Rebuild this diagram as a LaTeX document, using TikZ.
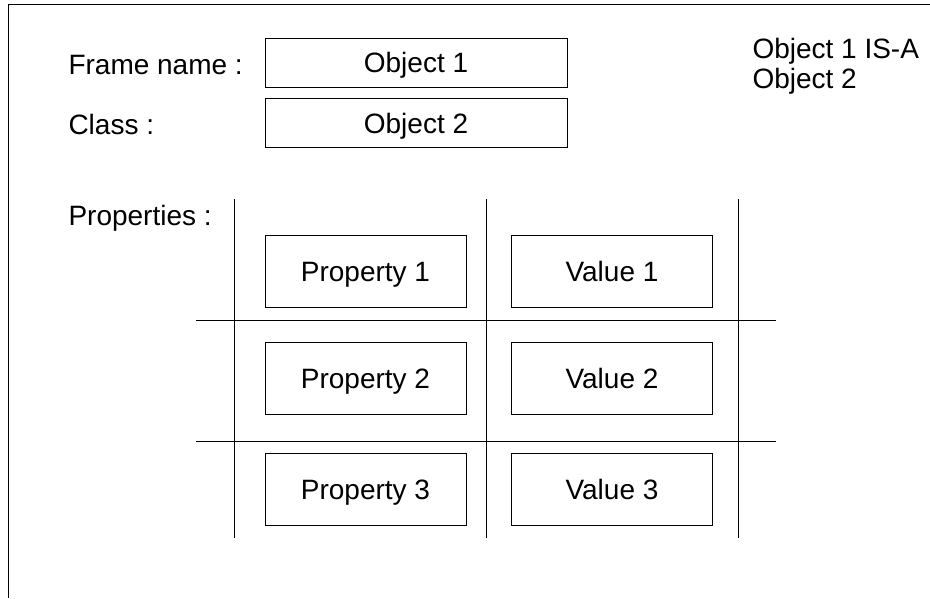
\documentclass[tikz,border=0pt]{standalone}
\usepackage{fontspec}
\setmainfont{Liberation Sans}
\begin{document}
\begin{tikzpicture}[x=1pt,y=-1pt,
  line width=1pt,
  every node/.style={font=\fontsize{28}{31}\selectfont},
  slotbox/.style={draw, inner sep=0pt, text height=20pt, text depth=0pt},
  objbox/.style={slotbox, minimum width=302pt, minimum height=49pt},
  cellbox/.style={slotbox, minimum width=201pt, minimum height=72pt},
  label/.style={anchor=base west, inner sep=0pt},
  grid/.style={line width=1pt}]
\useasboundingbox (0,0) rectangle (930,598);

% outer frame (top and left edges)
\coordinate (ftl) at (8,4);
\coordinate (ftr) at (930,4);
\coordinate (fbl) at (8,598);
\draw (ftr) -- (ftl) -- (fbl);

% header fields
\node[label] (lname) at (68,74) {Frame name :};
\node[label] (lclass) at (68,134) {Class :};
\node[label] (lprops) at (68,225) {Properties :};
\node[objbox] (obj1) at (416,62.5) {Object 1};
\node[objbox] (obj2) at (416,123) {Object 2};
\node[label] (isa1) at (752,58) {Object 1 IS-A};
\node[label] (isa2) at (752,88) {Object 2};

% property table grid
\coordinate (v1t) at (234,199); \coordinate (v1b) at (234,538);
\coordinate (v2t) at (486,199); \coordinate (v2b) at (486,538);
\coordinate (v3t) at (738,199); \coordinate (v3b) at (738,538);
\coordinate (h1l) at (196,320); \coordinate (h1r) at (776,320);
\coordinate (h2l) at (196,441); \coordinate (h2r) at (776,441);
\draw[grid] (v1t) -- (v1b);
\draw[grid] (v2t) -- (v2b);
\draw[grid] (v3t) -- (v3b);
\draw[grid] (h1l) -- (h1r);
\draw[grid] (h2l) -- (h2r);

% property / value cells
\node[cellbox] (p1) at (365.5,271) {Property 1};
\node[cellbox] (p2) at (365.5,378) {Property 2};
\node[cellbox] (p3) at (365.5,489.5) {Property 3};
\node[cellbox] (val1) at (612,271) {Value 1};
\node[cellbox] (val2) at (612,378) {Value 2};
\node[cellbox] (val3) at (612,489.5) {Value 3};
\end{tikzpicture}
\end{document}
